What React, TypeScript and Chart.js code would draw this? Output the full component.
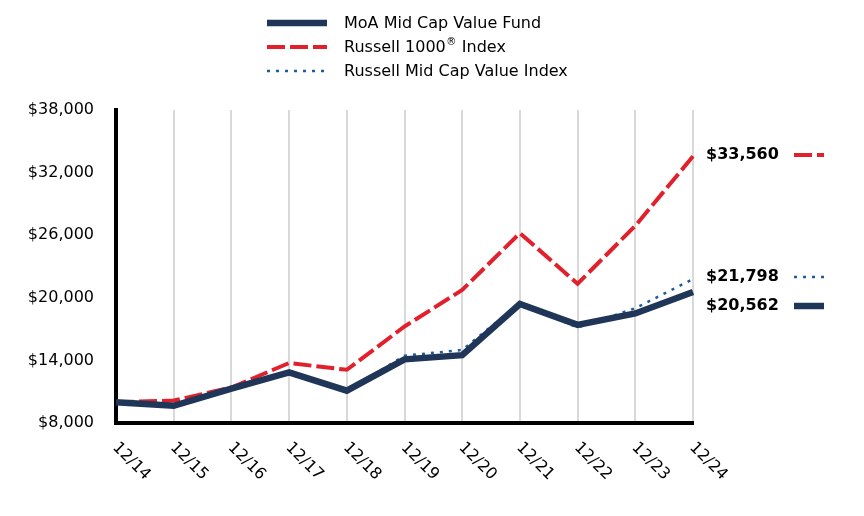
import React, { useEffect, useRef } from "react";
import { Chart, registerables } from "chart.js";

Chart.register(...registerables);

const categories = ["12/14", "12/15", "12/16", "12/17", "12/18", "12/19", "12/20", "12/21", "12/22", "12/23", "12/24"];
const fundValues = [10000, 9650, 11300, 12850, 11100, 14100, 14500, 19400, 17400, 18500, 20562];
const russell1000Values = [10000, 10150, 11400, 13750, 13100, 17250, 20750, 26200, 21350, 26900, 33560];
const midCapValueValues = [10000, 9550, 11350, 12800, 11050, 14450, 15000, 19500, 17150, 19000, 21798];
const seriesNames = ["MoA Mid Cap Value Fund", "Russell 1000", "Russell Mid Cap Value Index"];
const endLabels = ["$20,562", "$33,560", "$21,798"];
const yMin = 8000;
const yMax = 38000;
const yStep = 6000;

const NAVY = "#1f3659";
const RED = "#e2202b";
const BLUE = "#1c5d9f";
const FONT = "'DejaVu Sans', Verdana, sans-serif";

const styles = [
  { color: NAVY, width: 6.5, dash: [] as number[] },
  { color: RED, width: 4, dash: [18, 5] },
  { color: BLUE, width: 2.5, dash: [3, 6] },
];

export default function App() {
  const ref = useRef<HTMLCanvasElement | null>(null);
  useEffect(() => {
    document.body.style.margin = "0";
    const canvas = ref.current!;
    const overlay = {
      id: "overlay",
      afterDraw(chart: any) {
        const ctx = chart.ctx as CanvasRenderingContext2D;
        const xs = chart.scales.x;
        ctx.save();
        // x labels rotated
        ctx.fillStyle = "#000";
        ctx.font = `16px ${FONT}`;
        ctx.textAlign = "left";
        ctx.textBaseline = "middle";
        categories.forEach((c, i) => {
          const x = xs.getPixelForValue(i);
          ctx.save();
          ctx.translate(x - 1, 445);
          ctx.rotate(Math.PI / 4);
          ctx.fillText(c, 0, 0);
          ctx.restore();
        });
        // legend
        const legendY = [23, 47, 71];
        [0, 1, 2].forEach((k, r) => {
          const s = styles[k];
          const y = legendY[r];
          ctx.save();
          ctx.strokeStyle = s.color;
          ctx.lineWidth = s.width;
          ctx.setLineDash(s.dash);
          ctx.beginPath();
          ctx.moveTo(267, y);
          ctx.lineTo(327, y);
          ctx.stroke();
          ctx.restore();
          ctx.fillStyle = "#000";
          ctx.font = `16px ${FONT}`;
          ctx.textAlign = "left";
          ctx.textBaseline = "middle";
          let tx = 344;
          ctx.fillText(seriesNames[k], tx, y + 1);
          if (k === 1) {
            tx += ctx.measureText(seriesNames[k]).width;
            ctx.font = `10px ${FONT}`;
            ctx.fillText("\u00AE", tx + 0.5, y - 5);
            tx += ctx.measureText("\u00AE").width + 1;
            ctx.font = `16px ${FONT}`;
            ctx.fillText(" Index", tx, y + 1);
          }
        });
        // end labels
        const endY = [306, 155, 277];
        [1, 2, 0].forEach((k) => {
          const y = endY[k];
          ctx.fillStyle = "#000";
          ctx.font = `bold 16px ${FONT}`;
          ctx.textAlign = "left";
          ctx.textBaseline = "middle";
          ctx.fillText(endLabels[k], 706, y);
          const s = styles[k];
          ctx.save();
          ctx.strokeStyle = s.color;
          ctx.lineWidth = s.width;
          ctx.setLineDash(s.dash);
          ctx.beginPath();
          ctx.moveTo(794, y);
          ctx.lineTo(824, y);
          ctx.stroke();
          ctx.restore();
        });
        ctx.restore();
      },
    };
    const chart = new Chart(canvas, {
      type: "line",
      data: {
        labels: categories,
        datasets: [
          {
            label: seriesNames[2],
            data: midCapValueValues,
            borderColor: BLUE,
            borderWidth: styles[2].width,
            borderDash: styles[2].dash,
            pointRadius: 0,
            tension: 0,
            fill: false,
            order: 1,
          },
          {
            label: seriesNames[1],
            data: russell1000Values,
            borderColor: RED,
            borderWidth: styles[1].width,
            borderDash: styles[1].dash,
            pointRadius: 0,
            tension: 0,
            fill: false,
            order: 2,
          },
          {
            label: seriesNames[0],
            data: fundValues,
            borderColor: NAVY,
            borderWidth: styles[0].width,
            pointRadius: 0,
            tension: 0,
            fill: false,
            order: 0,
          },
        ],
      },
      options: {
        animation: false,
        responsive: false,
        maintainAspectRatio: false,
        layout: { padding: { top: 110, right: 171, bottom: 0, left: 0 } },
        plugins: { legend: { display: false }, tooltip: { enabled: false } },
        scales: {
          x: {
            offset: false,
            grid: { display: true, color: "#d9d9d9", lineWidth: 2, drawTicks: false },
            border: { display: true, color: "#000", width: 4 },
            ticks: { display: false },
            afterFit: (s: any) => {
              s.height = 93;
            },
          },
          y: {
            min: yMin,
            max: yMax,
            grid: { display: false, drawTicks: false },
            border: { display: true, color: "#000", width: 4 },
            ticks: {
              stepSize: yStep,
              color: "#000",
              padding: 22,
              font: { family: FONT, size: 16 },
              callback: (v: any) => "$" + Number(v).toLocaleString("en-US"),
            },
            afterFit: (s: any) => {
              s.width = 116;
            },
          },
        },
      },
      plugins: [overlay],
    });
    return () => chart.destroy();
  }, []);
  return <canvas ref={ref} width={864} height={516} style={{ display: "block" }} />;
}
